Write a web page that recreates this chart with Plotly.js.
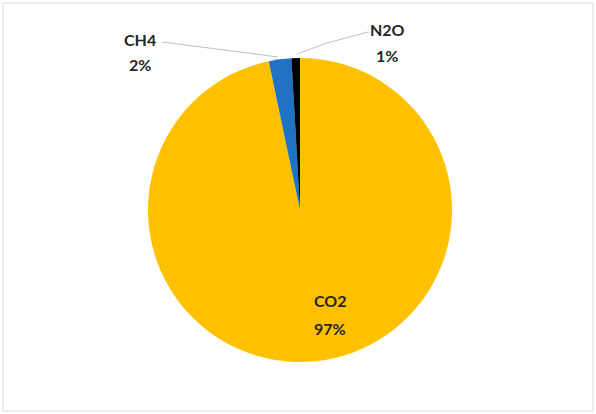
<!DOCTYPE html>
<html>
<head>
<meta charset="utf-8">
<script src="https://cdn.plot.ly/plotly-3.0.1.min.js"></script>
<style>html,body{margin:0;padding:0;background:#fff;}#chart{width:596px;height:414px;}</style>
</head>
<body>
<div id="chart"></div>
<script>
// Data
var gases = ['CO2', 'CH4', 'N2O'];
var shares = [96.7, 2.4, 0.9];
var sliceColors = ['#FFC000', '#1F72C4', '#000000'];

var W = 596, H = 414;
function px(x) { return x / W; }
function py(y) { return 1 - y / H; }

var total = shares.reduce(function (a, b) { return a + b; }, 0);
function pct(i) { return Math.round(shares[i] / total * 100) + '%'; }

// label placements (pixel positions of name / percent lines)
var labelPos = [
  { x: 330, y1: 300, y2: 328 },
  { x: 140, y1: 40, y2: 64 },
  { x: 387, y1: 30, y2: 55 }
];

var annotations = [];
gases.forEach(function (g, i) {
  var p = labelPos[i];
  var f = { family: 'Lato, "Open Sans", sans-serif', size: 16, color: '#262626' };
  annotations.push({ xref: 'paper', yref: 'paper', x: px(p.x), y: py(p.y1), text: '<b>' + g + '</b>',
    showarrow: false, xanchor: 'center', yanchor: 'middle', font: f });
  annotations.push({ xref: 'paper', yref: 'paper', x: px(p.x), y: py(p.y2), text: '<b>' + pct(i) + '</b>',
    showarrow: false, xanchor: 'center', yanchor: 'middle', font: f });
});

function pathOf(pts) {
  return pts.map(function (p, k) { return (k ? 'L ' : 'M ') + px(p[0]) + ',' + py(p[1]); }).join(' ');
}

var shapes = [
  { type: 'rect', xref: 'paper', yref: 'paper', x0: px(3), x1: px(593), y0: py(411), y1: py(3),
    line: { color: '#d9d9d9', width: 1 }, fillcolor: 'rgba(0,0,0,0)', layer: 'below' },
  { type: 'path', xref: 'paper', yref: 'paper', path: pathOf([[162, 42], [240, 52], [278, 57]]),
    line: { color: '#bfbfbf', width: 1 } },
  { type: 'path', xref: 'paper', yref: 'paper', path: pathOf([[297, 54], [327, 43], [368, 32]]),
    line: { color: '#bfbfbf', width: 1 } }
];

var data = [{
  type: 'pie',
  labels: gases,
  values: shares,
  sort: false,
  direction: 'clockwise',
  rotation: 0,
  textinfo: 'none',
  hoverinfo: 'label+percent',
  marker: { colors: sliceColors, line: { width: 0 } },
  domain: { x: [px(148), px(452)], y: [py(362), py(58)] },
  showlegend: false
}];

var layout = {
  width: W, height: H,
  margin: { l: 0, r: 0, t: 0, b: 0 },
  paper_bgcolor: '#ffffff',
  showlegend: false,
  annotations: annotations,
  shapes: shapes
};

Plotly.newPlot('chart', data, layout, { displayModeBar: false, staticPlot: true });
</script>
</body>
</html>
